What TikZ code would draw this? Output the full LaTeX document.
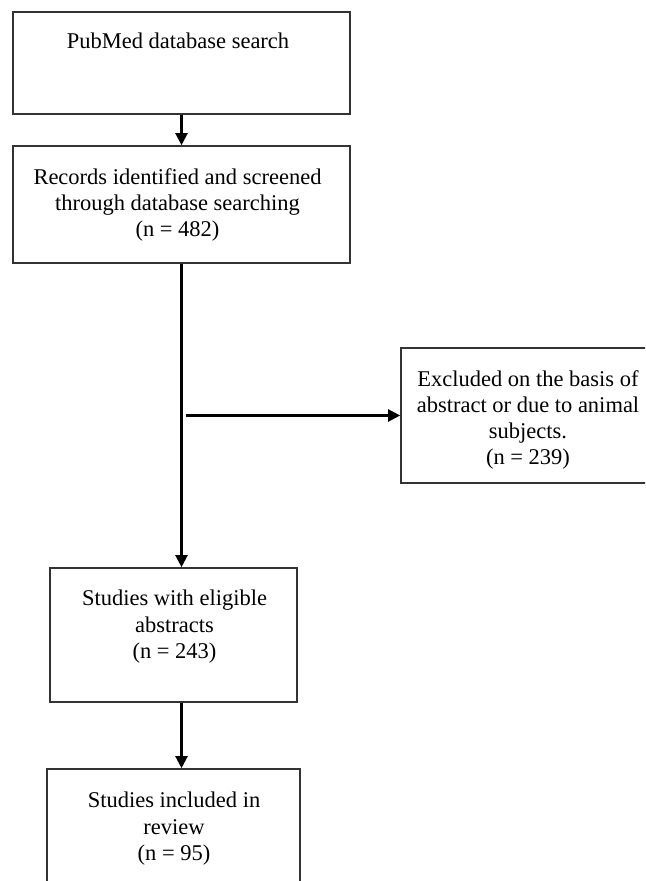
\documentclass[tikz,border=0pt]{standalone}
\usepackage{fontspec}
\setmainfont{Liberation Serif}
\usetikzlibrary{arrows.meta, positioning}

\begin{document}
\begin{tikzpicture}[
    x=0.025cm, y=-0.025cm,
    box/.style={rectangle, draw=black!80, line width=1.1pt, inner sep=0pt},
    txt/.style={align=center, anchor=north, inner sep=0pt, font=\fontsize{16}{18.6}\selectfont},
    arrow/.style={-{Triangle[length=3mm, width=3mm]}, line width=1.5pt}
]
\clip (0,0) rectangle (645,881);

\node[box, minimum width=8.425cm, minimum height=2.55cm] (search) at (181.5,63) {};
\node[box, minimum width=8.425cm, minimum height=2.925cm] (records) at (181.5,204.5) {};
\node[box, minimum width=6.375cm, minimum height=3.375cm] (excluded) at (528.5,415.5) {};
\node[box, minimum width=6.175cm, minimum height=3.35cm] (eligible) at (173.5,635) {};
\node[box, minimum width=6.325cm, minimum height=3.275cm] (included) at (173.5,834.5) {};

\node[txt] (searchtxt) at (178,33) {PubMed database search};
\node[txt] (recordstxt) at (177.5,168) {Records identified and screened\\through database searching\\(n = 482)};
\node[txt] (excludedtxt) at (528,370) {Excluded on the basis of\\abstract or due to animal\\subjects.\\(n = 239)};
\node[txt] (eligibletxt) at (174.5,590) {Studies with eligible\\abstracts\\(n = 243)};
\node[txt] (includedtxt) at (174,792) {Studies included in\\review\\(n = 95)};

\coordinate (branch) at (186,415.5);

\draw[arrow] (search) -- (records);
\draw[arrow] (records.south) -- (records.south |- eligible.north);
\draw[arrow] (branch) -- (excluded.west);
\draw[arrow] (eligible.south -| records.south) -- (records.south |- included.north);

\end{tikzpicture}
\end{document}
